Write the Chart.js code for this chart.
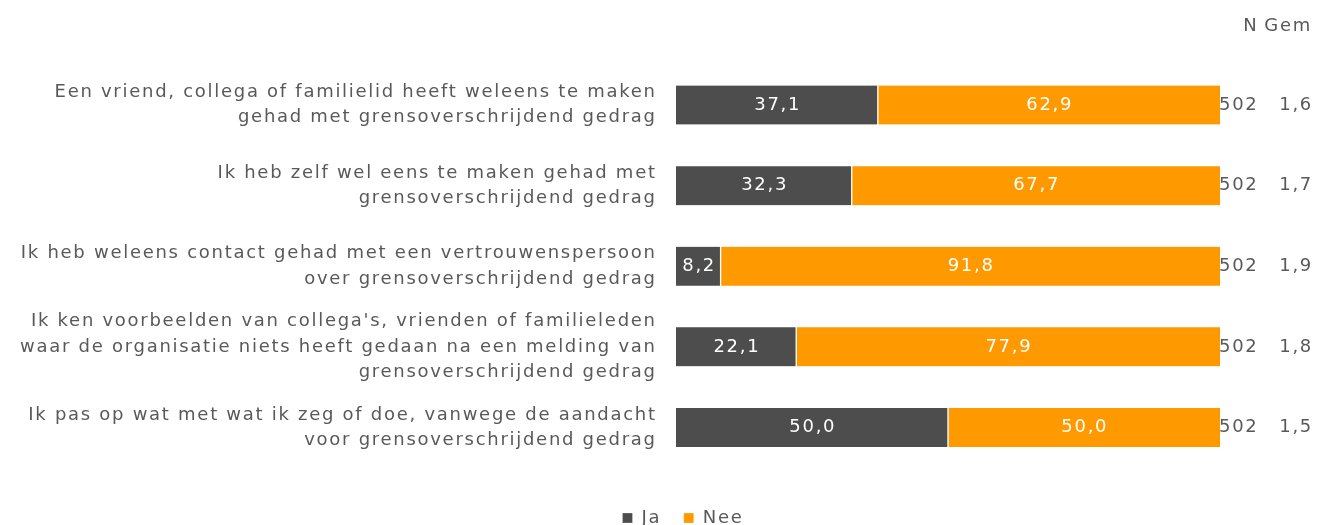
<!DOCTYPE html>
<html>
<head>
<meta charset="utf-8">
<script src="https://cdn.jsdelivr.net/npm/chart.js@4/dist/chart.umd.min.js"></script>
<style>
  html, body { margin: 0; padding: 0; background: #fff; overflow: hidden; }
  #wrap { position: relative; width: 1318px; height: 537px; }
</style>
</head>
<body>
<div id="wrap"><canvas id="c"></canvas></div>
<script>
const categories = [
  ["Een vriend, collega of familielid heeft weleens te maken", "gehad met grensoverschrijdend gedrag"],
  ["Ik heb zelf wel eens te maken gehad met", "grensoverschrijdend gedrag"],
  ["Ik heb weleens contact gehad met een vertrouwenspersoon", "over grensoverschrijdend gedrag"],
  ["Ik ken voorbeelden van collega's, vrienden of familieleden", "waar de organisatie niets heeft gedaan na een melding van", "grensoverschrijdend gedrag"],
  ["Ik pas op wat met wat ik zeg of doe, vanwege de aandacht", "voor grensoverschrijdend gedrag"]
];
const seriesNames = ["Ja", "Nee"];
const jaValues = [37.1, 32.3, 8.2, 22.1, 50.0];
const neeValues = [62.9, 67.7, 91.8, 77.9, 50.0];
const nValues = [502, 502, 502, 502, 502];
const gemValues = [1.6, 1.7, 1.9, 1.8, 1.5];
const columnHeaders = ["N", "Gem"];

const FONT = "'DejaVu Sans', Verdana, sans-serif";
const TEXT = '#595959';
const SPACING = '1.72px';
const fmt = v => v.toFixed(1).replace('.', ',');

const spacingPlugin = {
  id: 'spacing',
  beforeUpdate(chart) { chart.ctx.letterSpacing = SPACING; },
  afterLayout(chart) {
    // centre the legend like the original (slightly right of the canvas centre)
    if (chart.legend) { chart.legend.left += 48; }
  },
  beforeDraw(chart) { chart.ctx.letterSpacing = SPACING; }
};

const overlayPlugin = {
  id: 'overlay',
  afterDatasetsDraw(chart) {
    const ctx = chart.ctx;
    ctx.save();
    ctx.letterSpacing = SPACING;
    ctx.font = '18px ' + FONT;
    ctx.textBaseline = 'middle';
    ctx.textAlign = 'center';
    ctx.fillStyle = '#ffffff';
    chart.data.datasets.forEach((ds, di) => {
      const meta = chart.getDatasetMeta(di);
      meta.data.forEach((bar, i) => {
        const p = bar.getProps(['x', 'y', 'base'], true);
        const cx = (p.x + p.base) / 2 + 0.8;
        ctx.fillText(fmt(ds.data[i]), cx, p.y);
      });
    });
    const ys = chart.scales.y;
    const right = chart.chartArea.right;
    const nX = right + 38.5;
    const gX = right + 93;
    ctx.fillStyle = TEXT;
    ctx.textAlign = 'right';
    ctx.fillText(columnHeaders[0], nX, 26);
    ctx.fillText(columnHeaders[1], gX - 1, 26);
    nValues.forEach((v, i) => {
      const y = ys.getPixelForValue(i);
      ctx.fillText(String(v), nX, y);
      ctx.fillText(fmt(gemValues[i]), gX, y);
    });
    ctx.restore();
  }
};

new Chart(document.getElementById('c'), {
  type: 'bar',
  data: {
    labels: categories,
    datasets: [
      { label: seriesNames[0], data: jaValues, backgroundColor: '#4d4d4d',
        borderColor: '#ffffff', borderWidth: {left: 0, right: 1, top: 0, bottom: 0}, borderSkipped: false, barThickness: 39 },
      { label: seriesNames[1], data: neeValues, backgroundColor: '#ff9900',
        borderColor: '#ffffff', borderWidth: {left: 1, right: 0, top: 0, bottom: 0}, borderSkipped: false, barThickness: 39 }
    ]
  },
  options: {
    indexAxis: 'y',
    responsive: true,
    maintainAspectRatio: false,
    animation: false,
    layout: { padding: { left: 0, right: 0, top: 64.7, bottom: 0 } },
    scales: {
      x: {
        stacked: true, min: 0, max: 100,
        display: true,
        grid: { display: false, drawTicks: false },
        border: { display: false },
        ticks: { display: false },
        afterFit(scale) { scale.height = 18.7; }
      },
      y: {
        stacked: true,
        grid: { display: false, drawTicks: false },
        border: { display: false },
        ticks: { color: TEXT, font: { family: FONT, size: 18, lineHeight: 1.4 }, padding: 19.3 },
        afterFit(scale) { scale.width = 676; }
      },
      yRight: {
        type: 'category',
        position: 'right',
        display: true,
        grid: { display: false, drawTicks: false },
        border: { display: false },
        ticks: { display: false },
        afterFit(scale) { scale.width = 98; }
      }
    },
    plugins: {
      legend: {
        position: 'bottom',
        labels: { boxWidth: 10, boxHeight: 10, padding: 22.5, color: TEXT, font: { family: FONT, size: 18 } }
      },
      tooltip: { enabled: false }
    }
  },
  plugins: [spacingPlugin, overlayPlugin]
});
</script>
</body>
</html>
